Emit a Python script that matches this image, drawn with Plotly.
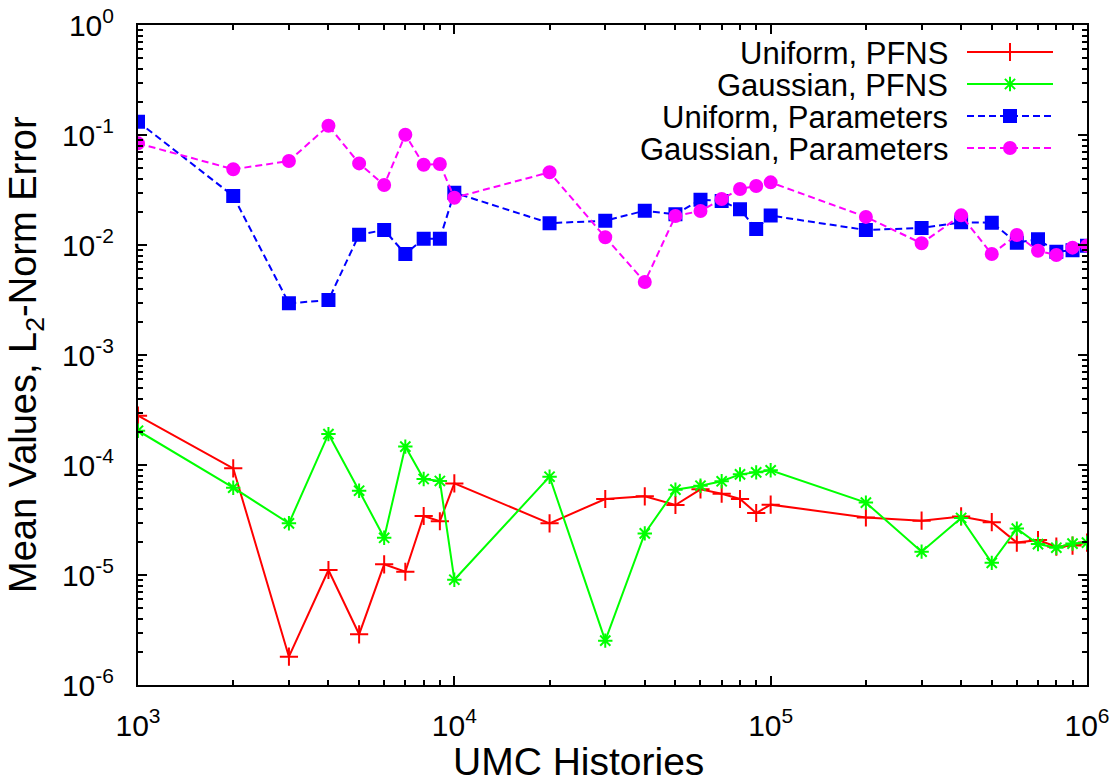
import plotly.graph_objects as go

# UMC history counts
histories = [1e3, 2e3, 3e3, 4e3, 5e3, 6e3, 7e3, 8e3, 9e3,
             1e4, 2e4, 3e4, 4e4, 5e4, 6e4, 7e4, 8e4, 9e4,
             1e5, 2e5, 3e5, 4e5, 5e5, 6e5, 7e5, 8e5, 9e5, 1e6]

uniform_pfns = [2.81e-4, 9.33e-5, 1.81e-6, 1.11e-5, 2.89e-6, 1.25e-5, 1.07e-5, 3.44e-5, 3.08e-5,
                6.8e-5, 2.95e-5, 4.91e-5, 5.19e-5, 4.33e-5, 6.01e-5, 5.48e-5, 4.91e-5, 3.66e-5,
                4.36e-5, 3.34e-5, 3.12e-5, 3.41e-5, 3.02e-5, 1.97e-5, 2.08e-5, 1.81e-5, 1.85e-5, 1.97e-5]

gaussian_pfns = [2.05e-4, 6.22e-5, 2.95e-5, 1.91e-4, 5.84e-5, 2.18e-5, 1.47e-4, 7.46e-5, 7.16e-5,
                 9.06e-6, 7.83e-5, 2.53e-6, 2.39e-5, 5.97e-5, 6.48e-5, 7.11e-5, 8.22e-5, 8.57e-5,
                 8.95e-5, 4.55e-5, 1.63e-5, 3.30e-5, 1.29e-5, 2.64e-5, 1.91e-5, 1.77e-5, 1.93e-5, 1.97e-5]

uniform_params = [0.132, 0.0279, 0.00295, 0.00316, 0.0124, 0.0137, 0.00828, 0.0114, 0.0114,
                  0.0299, 0.0158, 0.01663, 0.0205, 0.0190, 0.0258, 0.0251, 0.0211, 0.01397,
                  0.0185, 0.01368, 0.01428, 0.01607, 0.01596, 0.0105, 0.01127, 0.00869, 0.00894, 0.00986]

gaussian_params = [0.084, 0.0488, 0.058, 0.1215, 0.0552, 0.0351, 0.1006, 0.0537, 0.0545,
                   0.0269, 0.0458, 0.01175, 0.00461, 0.01836, 0.0204, 0.0262, 0.0323, 0.0344,
                   0.0371, 0.0180, 0.01036, 0.0186, 0.00828, 0.01233, 0.00887, 0.00811, 0.00946, 0.00986]

series_names = ["Uniform, PFNS", "Gaussian, PFNS", "Uniform, Parameters", "Gaussian, Parameters"]

x_tick_vals = [1e3, 1e4, 1e5, 1e6]
x_tick_text = ["10<sup>3</sup>", "10<sup>4</sup>", "10<sup>5</sup>", "10<sup>6</sup>"]
y_tick_vals = [1, 1e-1, 1e-2, 1e-3, 1e-4, 1e-5, 1e-6]
y_tick_text = ["10<sup>0</sup>", "10<sup>-1</sup>", "10<sup>-2</sup>", "10<sup>-3</sup>",
               "10<sup>-4</sup>", "10<sup>-5</sup>", "10<sup>-6</sup>"]

# minor ticks at 2..9 within each decade
x_minor_vals = [m * 10.0 ** e for e in range(3, 6) for m in range(2, 10)]
y_minor_vals = [m * 10.0 ** e for e in range(-6, 0) for m in range(2, 10)]

x_title = "UMC Histories"
y_title = "Mean Values, L<sub>2</sub>-Norm Error"

FONT = "Liberation Sans, Arial, sans-serif"
W, H = 1119, 782
L, R, T, B = 138, 1087, 25, 685


def px_to_paper(px, py):
    return (px - L) / (R - L), (B - py) / (B - T)


styles = [
    dict(color="#ff0000", dash="solid", symbol="cross-thin-open", msize=13),
    dict(color="#00ff00", dash="solid", symbol="asterisk-open", msize=12),
    dict(color="#0000ff", dash="7px,4px", symbol="square", msize=12),
    dict(color="#ff00ff", dash="7px,4px", symbol="circle", msize=12),
]
series = [uniform_pfns, gaussian_pfns, uniform_params, gaussian_params]

fig = go.Figure()
for name, ys, st in zip(series_names, series, styles):
    fig.add_trace(go.Scatter(
        x=histories, y=ys, name=name, mode="lines+markers",
        line=dict(color=st["color"], width=2, dash=st["dash"]),
        marker=dict(symbol=st["symbol"], size=st["msize"], color=st["color"],
                    line=dict(color=st["color"], width=2)),
        showlegend=False,
    ))

# key drawn in pixel space on an overlay axis: text on the left, sample on the right
key_rows = [52, 84, 116, 148]
for name, st, yrow in zip(series_names, styles, key_rows):
    fig.add_trace(go.Scatter(
        x=[967, 1053], y=[yrow, yrow], mode="lines", xaxis="x2", yaxis="y2",
        line=dict(color=st["color"], width=2, dash=st["dash"]),
        showlegend=False, hoverinfo="skip",
    ))
    fig.add_trace(go.Scatter(
        x=[1010], y=[yrow], mode="markers", xaxis="x2", yaxis="y2",
        marker=dict(symbol=st["symbol"], size=st["msize"], color=st["color"],
                    line=dict(color=st["color"], width=2)),
        showlegend=False, hoverinfo="skip",
    ))
    fig.add_annotation(x=950, y=yrow + 1, xref="x2", yref="y2", text=name,
                       showarrow=False, xanchor="right", yanchor="middle",
                       font=dict(family=FONT, size=31, color="black"))

# axis titles (paper coordinates, placed below and left of the frame)
tx, ty = px_to_paper(578, 761)
fig.add_annotation(x=tx, y=ty, xref="paper", yref="paper", text=x_title, showarrow=False,
                   xanchor="center", yanchor="middle",
                   font=dict(family=FONT, size=39, color="black"))
tx, ty = px_to_paper(26, 355)
fig.add_annotation(x=tx, y=ty, xref="paper", yref="paper", text=y_title, showarrow=False,
                   textangle=-90, xanchor="center", yanchor="middle",
                   font=dict(family=FONT, size=38, color="black"))

axis_common = dict(
    type="log", showline=True, linecolor="black", linewidth=2, mirror="allticks",
    ticks="inside", ticklen=9, tickwidth=1.5, tickcolor="black", showgrid=False,
    zeroline=False, automargin=False, tickfont=dict(family=FONT, size=30, color="black"),
)

fig.update_layout(
    width=W, height=H,
    margin=dict(l=L, r=W - R, t=T, b=H - B, autoexpand=False),
    plot_bgcolor="white", paper_bgcolor="white",
    font=dict(family=FONT, color="black"),
    xaxis=dict(axis_common, range=[3, 6], tickvals=x_tick_vals, ticktext=x_tick_text,
               ticklabelstandoff=13,
               minor=dict(tickmode="array", tickvals=x_minor_vals, ticks="inside",
                          ticklen=5, tickwidth=1.5, tickcolor="black", showgrid=False)),
    yaxis=dict(axis_common, range=[-6, 0], tickvals=y_tick_vals, ticktext=y_tick_text,
               ticklabelstandoff=16,
               minor=dict(tickmode="array", tickvals=y_minor_vals, ticks="inside",
                          ticklen=5, tickwidth=1.5, tickcolor="black", showgrid=False)),
    xaxis2=dict(overlaying="x", range=[L, R], visible=False, fixedrange=True),
    yaxis2=dict(overlaying="y", range=[B, T], visible=False, fixedrange=True),
)

fig.write_html("out.html")
